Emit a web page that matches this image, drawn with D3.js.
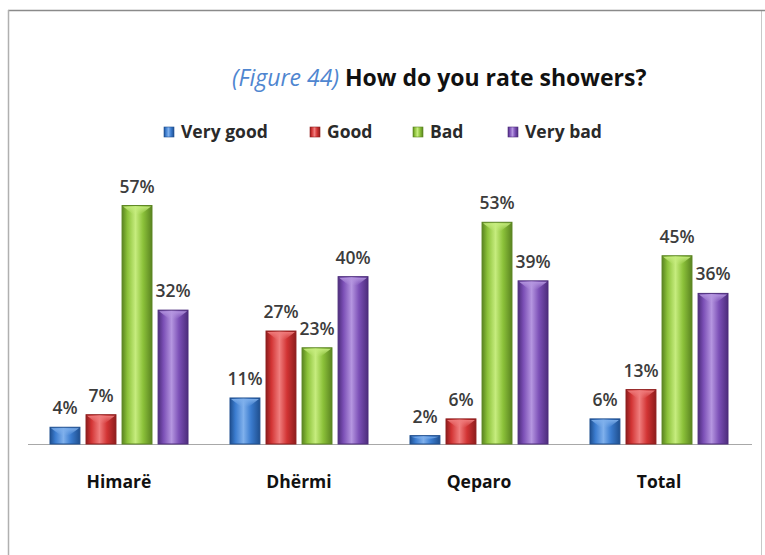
<!DOCTYPE html>
<html>
<head>
<meta charset="utf-8">
<script src="https://cdn.jsdelivr.net/npm/d3@7/dist/d3.min.js"></script>
<style>
  html, body { margin: 0; padding: 0; background: #fff; }
  svg { display: block; }
</style>
</head>
<body>
<svg id="chart" width="765" height="555"></svg>
<script>
// Survey data: share of answers per place
const categories = ["Himarë", "Dhërmi", "Qeparo", "Total"];
const seriesNames = ["Very good", "Good", "Bad", "Very bad"];
const veryGood = [4, 11, 2, 6];
const good     = [7, 27, 6, 13];
const bad      = [57, 23, 53, 45];
const veryBad  = [32, 40, 39, 36];
const seriesValues = [veryGood, good, bad, veryBad];

// Base / light / dark tones for each series
const palette = [
  { base: "#3b7ccf", light: "#7fb0ec", dark: "#1f4f8f" },
  { base: "#d23434", light: "#f07d7d", dark: "#8e1c1c" },
  { base: "#8cc23a", light: "#c6ec7e", dark: "#5a8420" },
  { base: "#7b4fb6", light: "#b596e0", dark: "#4d2d7c" }
];

const svg = d3.select("#chart");
const font = "'Open Sans', Lato, 'DejaVu Sans', sans-serif";

// Frame around the chart area
svg.append("rect").attr("x", 8.5).attr("y", 10.5).attr("width", 753).attr("height", 560)
  .attr("fill", "#fff").attr("stroke", "#c8c8c8").attr("stroke-width", 1);
svg.append("line").attr("x1", 8).attr("x2", 765).attr("y1", 10.5).attr("y2", 10.5)
  .attr("stroke", "#8a8a8a").attr("stroke-width", 1.5);
svg.append("line").attr("x1", 8.5).attr("x2", 8.5).attr("y1", 10).attr("y2", 555)
  .attr("stroke", "#b0b0b0").attr("stroke-width", 1.5);

// Gradients for the bar shading
const defs = svg.append("defs");
palette.forEach((c, i) => {
  const g = defs.append("linearGradient").attr("id", "bar" + i)
    .attr("x1", "0%").attr("x2", "100%").attr("y1", "0%").attr("y2", "0%");
  g.append("stop").attr("offset", "0%").attr("stop-color", c.dark);
  g.append("stop").attr("offset", "18%").attr("stop-color", c.base);
  g.append("stop").attr("offset", "45%").attr("stop-color", c.light);
  g.append("stop").attr("offset", "70%").attr("stop-color", c.base);
  g.append("stop").attr("offset", "100%").attr("stop-color", c.dark);
  const t = defs.append("linearGradient").attr("id", "cap" + i)
    .attr("x1", "0%").attr("x2", "0%").attr("y1", "0%").attr("y2", "100%");
  t.append("stop").attr("offset", "0%").attr("stop-color", c.light).attr("stop-opacity", 0.95);
  t.append("stop").attr("offset", "100%").attr("stop-color", c.light).attr("stop-opacity", 0);
});

// Scales
const x0 = d3.scaleBand().domain(categories).range([29, 749]).paddingInner(0.2333).paddingOuter(0.1167);
const x1 = d3.scaleBand().domain(seriesNames).range([0, x0.bandwidth()]).paddingInner(0.17).paddingOuter(0);
const y = d3.scaleLinear().domain([0, 60]).range([444, 193]);

// Title
const title = svg.append("text").attr("x", 232).attr("y", 86).attr("text-anchor", "start")
  .attr("font-family", font).attr("font-size", 23);
title.append("tspan").attr("fill", "#4f86d0").attr("font-style", "italic").text("(Figure 44)");
title.append("tspan").attr("fill", "#111").attr("font-weight", "bold").text(" How do you rate showers?");

// Legend
const legendX = [164, 310, 413, 508];
seriesNames.forEach((name, i) => {
  const g = svg.append("g").attr("transform", `translate(${legendX[i]},132)`);
  g.append("rect").attr("x", 0).attr("y", -5).attr("width", 10).attr("height", 10)
    .attr("fill", `url(#bar${i})`).attr("stroke", palette[i].dark).attr("stroke-width", 0.6);
  g.append("text").attr("x", 17).attr("y", 6).attr("font-family", font).attr("font-weight", "bold")
    .attr("font-size", 17.5).attr("fill", "#2a2a2a").text(name);
});

// Baseline
svg.append("line").attr("x1", 28).attr("x2", 752).attr("y1", 444.5).attr("y2", 444.5)
  .attr("stroke", "#a8a8a8").attr("stroke-width", 1);

// Bars
categories.forEach((cat, ci) => {
  const g = svg.append("g").attr("transform", `translate(${x0(cat)},0)`);
  seriesNames.forEach((name, si) => {
    const v = seriesValues[si][ci];
    const bx = x1(name), bw = x1.bandwidth(), by = y(v), bh = y(0) - y(v);
    g.append("rect").attr("x", bx).attr("y", by).attr("width", bw).attr("height", bh)
      .attr("fill", `url(#bar${si})`).attr("stroke", palette[si].dark).attr("stroke-width", 1);
    const capH = Math.min(9, bh * 0.5);
    g.append("path")
      .attr("d", `M${bx + 1},${by + 1} L${bx + bw - 1},${by + 1} L${bx + bw * 0.62},${by + capH} L${bx + bw * 0.38},${by + capH} Z`)
      .attr("fill", `url(#cap${si})`);
    g.append("text").attr("x", bx + bw / 2).attr("y", by - 13).attr("text-anchor", "middle")
      .attr("font-family", font).attr("font-weight", "600").attr("font-size", 17.5)
      .attr("fill", "#3c3c3c").text(v + "%");
  });
});

// Category labels
categories.forEach(cat => {
  svg.append("text").attr("x", x0(cat) + x0.bandwidth() / 2).attr("y", 488).attr("text-anchor", "middle")
    .attr("font-family", font).attr("font-weight", "bold").attr("font-size", 17.5)
    .attr("fill", "#111").text(cat);
});
</script>
</body>
</html>
